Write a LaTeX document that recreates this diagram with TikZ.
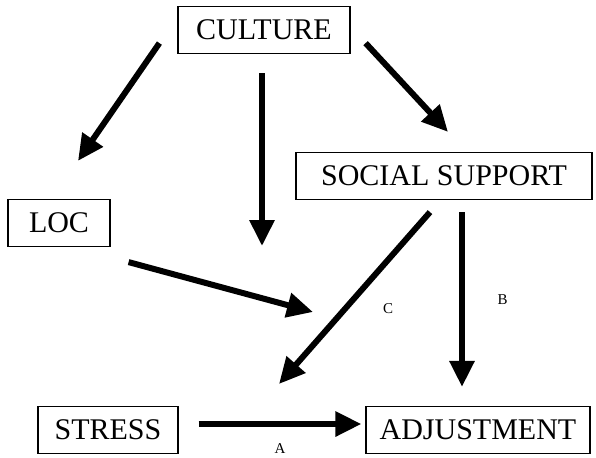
\documentclass[tikz,border=0pt]{standalone}
\usepackage{fontspec}
\setmainfont{Liberation Serif}
\usetikzlibrary{arrows.meta}

\begin{document}
\begin{tikzpicture}[x=0.5pt,y=-0.5pt,
    >={Triangle[length=13pt,width=12pt]},
    box node/.style={draw,line width=0.6pt,inner sep=0pt,minimum height=23.5pt,font=\fontsize{15}{18}\selectfont},
    big arrow/.style={->,line width=3pt},
    path label/.style={font=\fontsize{7.5}{8}\selectfont}]

  \useasboundingbox (0,0) rectangle (596,457);

  \node[box node,minimum width=86pt] (culture) at (264,30) {CULTURE};
  \node[box node,minimum width=148pt] (support) at (444,176) {SOCIAL SUPPORT};
  \node[box node,minimum width=51pt] (loc) at (59,223) {LOC};
  \node[box node,minimum width=70pt] (stress) at (108,430) {STRESS};
  \node[box node,minimum width=112pt] (adjust) at (478,430) {ADJUSTMENT};

  % free ends of the moderating arrows
  \coordinate (culture end) at (262,246);
  \coordinate (loc end) at (313,312);
  \coordinate (support end) at (279,384);

  \draw[big arrow] ([shift={(-18,-11)}]culture.south west) -- ([shift={(19,-38)}]loc.north);
  \draw[big arrow] ([shift={(-2,19)}]culture.south) -- (culture end);
  \draw[big arrow] ([shift={(15,-11)}]culture.south east) -- ([shift={(4,-20)}]support.north);
  \draw[big arrow] ([shift={(18,15)}]loc.south east) -- (loc end);
  \draw[big arrow] ([shift={(-14,12)}]support.south) -- (support end)
        node[path label,pos=0.56,right=14pt] {C};
  \draw[big arrow] ([shift={(18,12)}]support.south) -- ([shift={(-16,-19)}]adjust.north)
        node[path label,midway,right=13pt] {B};
  \draw[big arrow] ([shift={(20,-6)}]stress.east) -- ([shift={(-4,-6)}]adjust.west)
        node[path label,midway,below=5pt] {A};

\end{tikzpicture}
\end{document}
